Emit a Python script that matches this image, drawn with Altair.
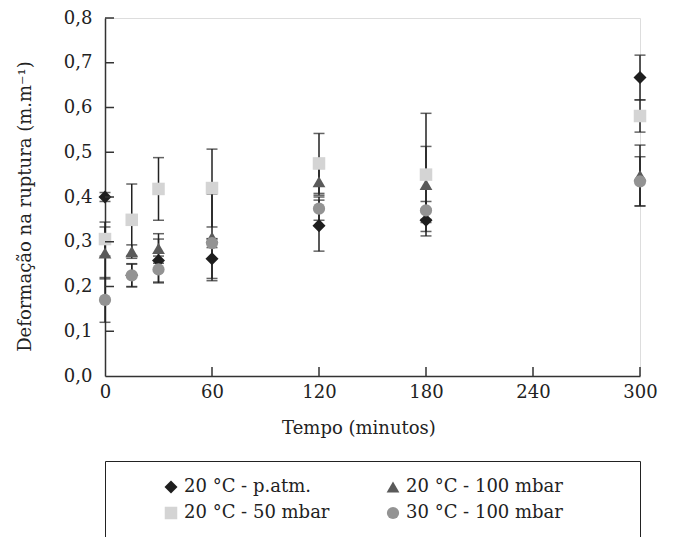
import altair as alt
import pandas as pd

times = [0, 15, 30, 60, 120, 180, 300]
series = ["20 °C - p.atm.", "20 °C - 100 mbar", "20 °C - 50 mbar", "30 °C - 100 mbar"]
shapes = ["diamond", "triangle-up", "square", "circle"]
colors = ["#1e1e1e", "#5a5a5a", "#d4d4d4", "#939393"]
sizes = [170, 150, 100, 150]

v_patm = [0.400, 0.225, 0.258, 0.262, 0.336, 0.348, 0.667]
e_patm = [0.010, 0.025, 0.048, 0.044, 0.057, 0.025, 0.050]
v_100 = [0.275, 0.278, 0.285, 0.310, 0.434, 0.428, 0.448]
e_100 = [0.058, 0.015, 0.033, 0.097, 0.030, 0.085, 0.068]
v_50 = [0.306, 0.349, 0.418, 0.420, 0.475, 0.450, 0.581]
e_50 = [0.038, 0.080, 0.070, 0.087, 0.067, 0.137, 0.036]
v_30 = [0.170, 0.225, 0.238, 0.297, 0.374, 0.370, 0.435]
e_30 = [0.050, 0.026, 0.030, 0.010, 0.026, 0.020, 0.055]

x_tick_values = [0, 60, 120, 180, 240, 300]
y_tick_values = [0.0, 0.1, 0.2, 0.3, 0.4, 0.5, 0.6, 0.7, 0.8]

rows = []
for k, (name, vals, errs) in enumerate(zip(series, [v_patm, v_100, v_50, v_30],
                                          [e_patm, e_100, e_50, e_30])):
    for t, v, e in zip(times, vals, errs):
        rows.append({"serie": name, "ord": k, "t": t, "v": v, "lo": v - e, "hi": v + e})
df = pd.DataFrame(rows)

FONT = "DejaVu Serif"
FS = 18
TXT = "#222222"
W, H = 535, 358

xscale = alt.Scale(domain=[0, 300], nice=False, zero=False)
yscale = alt.Scale(domain=[0, 0.8], nice=False)

xaxis = alt.Axis(values=x_tick_values, format="d", ticks=False, grid=False, labelFlush=False,
                 domainColor="#333333", domainWidth=1.5,
                 labelFont=FONT, labelFontSize=FS, labelColor=TXT, labelPadding=7,
                 title="Tempo (minutos)", titleFont=FONT, titleFontSize=FS,
                 titleFontWeight="normal", titleColor=TXT,
                 titleX=253.5, titleY=52, titleAlign="center", titleBaseline="middle")
yaxis = alt.Axis(values=y_tick_values, labelExpr="replace(format(datum.value, '.1f'), '.', ',')",
                 ticks=False, grid=False, labelFlush=False,
                 domainColor="#333333", domainWidth=1.5,
                 labelFont=FONT, labelFontSize=FS, labelColor=TXT, labelPadding=13,
                 title="Deformação na ruptura (m.m⁻¹)", titleFont=FONT, titleFontSize=FS,
                 titleFontWeight="normal", titleColor=TXT,
                 titleX=-80, titleY=188, titleAlign="center", titleBaseline="middle",
                 titleAngle=270)

base = alt.Chart(df)

err = base.mark_rule(color="#222222", strokeWidth=1.5).encode(
    x=alt.X("t:Q", scale=xscale, axis=xaxis),
    y=alt.Y("lo:Q", scale=yscale, axis=yaxis),
    y2="hi:Q",
)
cap_lo = base.mark_tick(color="#222222", orient="horizontal", size=11, thickness=1.5).encode(
    x=alt.X("t:Q", scale=xscale, axis=xaxis),
    y=alt.Y("lo:Q", scale=yscale, axis=yaxis),
)
cap_hi = base.mark_tick(color="#222222", orient="horizontal", size=11, thickness=1.5).encode(
    x=alt.X("t:Q", scale=xscale, axis=xaxis),
    y=alt.Y("hi:Q", scale=yscale, axis=yaxis),
)

legend = alt.Legend(orient="none", legendX=0, legendY=443, columns=2, direction="horizontal",
                    strokeColor="#222222", padding=17, symbolOffset=40, labelOffset=4,
                    columnPadding=14, rowPadding=8, labelFont=FONT, labelFontSize=FS,
                    labelColor=TXT, title=" ", titleOrient="right", titlePadding=60,
                    titleFontSize=FS, symbolStrokeWidth=0, symbolOpacity=1)

points = base.mark_point(filled=True, opacity=1, strokeWidth=0).encode(
    x=alt.X("t:Q", scale=xscale, axis=xaxis),
    y=alt.Y("v:Q", scale=yscale, axis=yaxis),
    color=alt.Color("serie:N", scale=alt.Scale(domain=series, range=colors), legend=legend),
    shape=alt.Shape("serie:N", scale=alt.Scale(domain=series, range=shapes), legend=legend),
    size=alt.Size("serie:N", scale=alt.Scale(domain=series, range=sizes), legend=legend),
    order=alt.Order("ord:Q"),
)

ytick_df = pd.DataFrame({"tv": y_tick_values[1:]})
xtick_df = pd.DataFrame({"tx": x_tick_values[1:]})

yticks = alt.Chart(ytick_df).mark_rule(color="#333333", strokeWidth=1.5).encode(
    y=alt.Y("tv:Q", scale=yscale, axis=yaxis),
    x=alt.value(0), x2=alt.value(9),
)
xticks = alt.Chart(xtick_df).mark_rule(color="#333333", strokeWidth=1.5).encode(
    x=alt.X("tx:Q", scale=xscale, axis=xaxis),
    y=alt.value(H), y2=alt.value(H - 9),
)

chart = alt.layer(err, cap_lo, cap_hi, points, yticks, xticks).properties(
    width=W, height=H,
    autosize=alt.AutoSizeParams(type="none"),
    padding={"left": 105, "top": 18, "right": 34, "bottom": 161},
).configure_view(stroke=None).configure(background="white")

chart.save("out.html", embed_options={"renderer": "svg", "actions": False})
